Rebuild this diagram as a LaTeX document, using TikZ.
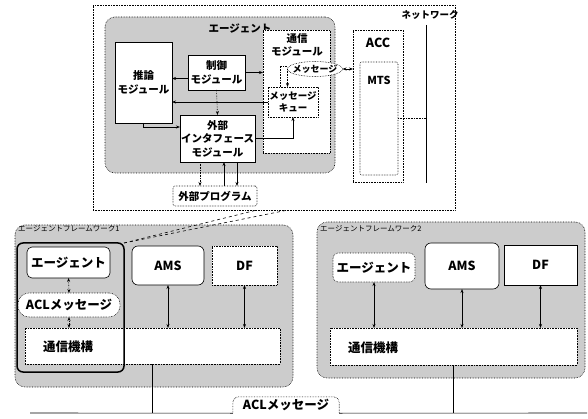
\documentclass[tikz,border=0pt]{standalone}
\usepackage{fontspec}
\setmainfont{Noto Sans CJK JP}
\usetikzlibrary{arrows.meta,shapes.geometric}
\begin{document}
\begin{tikzpicture}[x=1pt,y=-1pt,
  txt/.style={font=\fontsize{10.5}{13.5}\selectfont\bfseries},
  big/.style={font=\fontsize{12.5}{15}\selectfont\bfseries},
  box/.style={draw, line width=0.6pt, fill=white, inner sep=0pt, outer sep=0pt, align=center, txt},
  dbox/.style={box, densely dotted},
  shadebox/.style={draw, densely dotted, line width=0.6pt, fill=black!20, rounded corners=10pt, inner sep=0pt, outer sep=0pt},
  lbl/.style={inner sep=0pt, align=center, txt},
  arr/.style={-{Stealth[length=4pt,width=3pt]}, line width=0.6pt},
  darr/.style={{Stealth[length=4pt,width=3pt]}-{Stealth[length=4pt,width=3pt]}, line width=0.6pt},
  ln/.style={line width=0.6pt}
]
\useasboundingbox (0,0) rectangle (588,419);

% ---------- top detail box ----------
\node[box, densely dotted, minimum width=362, minimum height=205] (top) at (274,107.5) {};
\node[shadebox, minimum width=230, minimum height=156] (agentarea) at (220,95) {};
\node[lbl] (agentlbl) at (240,28) {エージェント};
\node[box, minimum width=57, minimum height=81] (reason) at (143.5,82.5) {推論\\モジュール};
\node[box, minimum width=57, minimum height=35] (ctl) at (216.5,72.5) {制御\\モジュール};
\node[dbox, minimum width=67, minimum height=123] (comm) at (296.5,91.5) {};
\node[lbl] (commlbl) at (297,45) {通信\\モジュール};
\node[dbox, minimum width=50, minimum height=30, font=\fontsize{9.5}{12.5}\selectfont\bfseries] (queue) at (293,102) {メッセージ\\キュー};
\node[draw, densely dotted, line width=0.6pt, fill=white, ellipse, minimum width=55, minimum height=15, inner sep=0pt, outer sep=0pt] (msg) at (315,69) {};
\node[lbl, font=\fontsize{9}{10}\selectfont\bfseries] (msglbl) at (315,69) {メッセージ};
\node[box, minimum width=75, minimum height=47] (extif) at (217.5,138.5) {外部\\インタフェース\\モジュール};
\node[dbox, rounded corners=2pt, minimum width=84, minimum height=20] (prog) at (215,196) {外部プログラム};

\node[dbox, minimum width=50, minimum height=152] (acc) at (378,106) {};
\node[lbl, big] (acclbl) at (378,43) {ACC};
\node[dbox, rounded corners=2pt, minimum width=38, minimum height=113] (mts) at (379,118.5) {};
\node[lbl, font=\fontsize{11}{13}\selectfont\bfseries] (mtslbl) at (379,80) {MTS};
\node[lbl, font=\fontsize{9.5}{11}\selectfont\bfseries] (netlbl) at (430,15) {ネットワーク};
\coordinate (nettop) at (426,25);
\coordinate (netbot) at (426,183);
\draw[ln] (nettop) -- (netbot);
\draw[ln, densely dotted] (mts.east) -- (mts.east -| nettop);

% connectors in agent
\draw[arr] ([yshift=-6pt]ctl.west) -- ([yshift=-6pt]ctl.west -| reason.east);
\draw[arr] (ctl.east) -- (ctl.east -| comm.west);
\draw[arr, densely dotted] (ctl.south) -- (extif.north);
\draw[arr] (queue.west) -- (queue.west -| reason.east);
\draw[arr] (reason.south) |- ([yshift=11.5pt]extif.west);
\draw[arr] (extif.east) -| (queue.south);
\draw[arr, densely dotted] (msg.west) -- (msg.west |- queue.north);
\draw[ln, densely dotted] ([xshift=-13pt]queue.north) |- ([yshift=3pt]msg.west);
\draw[darr] (msg.east) -- (msg.east -| acc.west);
\draw[arr, densely dotted] ([xshift=-17.5pt]extif.south) -- ([xshift=-15pt]prog.north);
\draw[arr] ([xshift=9pt]prog.north) -- ([xshift=6.5pt]extif.south);
\draw[arr] ([xshift=19.5pt]extif.south) -- ([xshift=22pt]prog.north);

% ---------- framework 1 ----------
\node[shadebox, minimum width=278, minimum height=162] (fw1) at (154,306) {};
\node[inner sep=0pt, anchor=west, font=\fontsize{7.5}{8}\selectfont] (fw1lbl) at (18,229) {エージェントフレームワーク1};
\node[box, rounded corners=5pt, minimum width=83, minimum height=31, big] (ag1) at (68.5,262.5) {エージェント};
\node[dbox, rounded corners=11pt, minimum width=102, minimum height=24, big] (acl1) at (69,305) {ACLメッセージ};
\node[dbox, minimum width=255, minimum height=36] (cm1) at (152.5,346) {};
\node[lbl, big] (cm1lbl) at (68,347) {通信機構};
\node[box, rounded corners=6pt, minimum width=72, minimum height=39, big] (ams1) at (168,265.5) {AMS};
\node[dbox, minimum width=65, minimum height=39, big] (df1) at (244.5,265.5) {DF};
\node[draw, line width=1.5pt, rounded corners=6pt, minimum width=107, minimum height=129, inner sep=0pt, outer sep=0pt] (thick) at (70.5,307.5) {};
\draw[darr, densely dotted] (ag1.south) -- (acl1.north);
\draw[darr, densely dotted] (acl1.south) -- (acl1.south |- cm1.north);
\draw[darr] (ams1.south) -- (ams1.south |- cm1.north);
\draw[darr] (df1.south) -- (df1.south |- cm1.north);

% callout lines
\draw[ln, dashed] (thick.north east) -- ([xshift=-17pt]top.south);
\draw[ln, dashed] (thick.north east) -- ([xshift=14pt]top.south);

% ---------- framework 2 ----------
\node[shadebox, minimum width=268, minimum height=156] (fw2) at (451,300) {};
\node[inner sep=0pt, anchor=west, font=\fontsize{7.5}{8}\selectfont] (fw2lbl) at (320,229) {エージェントフレームワーク2};
\node[dbox, rounded corners=5pt, minimum width=82, minimum height=29, big] (ag2) at (374,267.5) {エージェント};
\node[box, rounded corners=6pt, minimum width=74, minimum height=46, big] (ams2) at (462,266) {AMS};
\node[box, minimum width=73, minimum height=40, big] (df2) at (540.5,265) {DF};
\node[dbox, minimum width=247, minimum height=37] (cm2) at (453.5,346.5) {};
\node[lbl, big] (cm2lbl) at (373,348) {通信機構};
\draw[darr] (ag2.south) -- (ag2.south |- cm2.north);
\draw[darr] (ams2.south) -- (ams2.south |- cm2.north);
\draw[darr] (df2.south) -- (df2.south |- cm2.north);

% ---------- bus ----------
\coordinate (busL) at (30,413);
\coordinate (busR) at (587,413);
\node[fill=white, inner sep=0pt, minimum width=106, minimum height=16, big] (acl) at (286,405) {ACLメッセージ};
\draw[ln] (busL) -- (acl.south west);
\draw[ln] (acl.south east) -- (busR);
\draw[ln, densely dotted, rounded corners=6pt] (acl.south west) -- (acl.north west) -- (acl.north east) -- (acl.south east);
\draw[ln] (cm1.south) -- (cm1.south |- busL);
\draw[ln] (cm2.south) -- (cm2.south |- busL);
\end{tikzpicture}
\end{document}
